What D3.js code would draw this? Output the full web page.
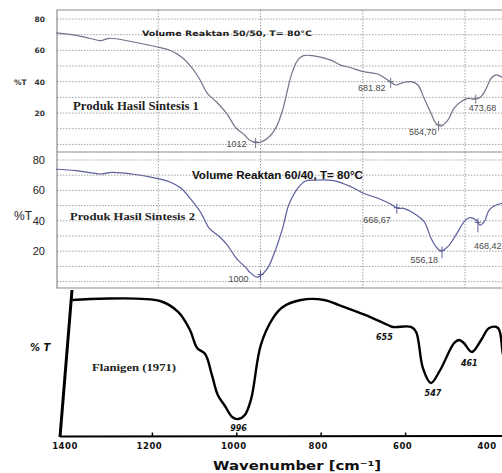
<!DOCTYPE html>
<html lang="en">
<head>
<meta charset="utf-8">
<script src="https://d3js.org/d3.v7.min.js"></script>
<style>
  body { margin: 0; background: #fff; }
</style>
</head>
<body>
<svg id="chart" width="502" height="473"></svg>
<script>
// ---- data ----
// panel 1: Volume Reaktan 50/50
const wn1 = [1500, 1444, 1400, 1390, 1370, 1314, 1255, 1223, 1194, 1170, 1150, 1130, 1108, 1083, 1059, 1039, 1027, 1007, 983, 963, 946, 934, 922, 909, 895, 873, 828, 804, 779, 748, 713, 689, 669, 652, 632, 615, 600, 583, 571, 559, 542, 527, 510, 493, 478, 461, 448, 436, 424, 409, 395];
const t1  = [71.1, 69.2, 66.6, 66.2, 67.7, 65.5, 62.3, 60.2, 55.9, 49.6, 42.2, 32.6, 27.2, 19.8, 10.2, 6.0, 2.8, 1.1, 3.9, 10.2, 21.9, 34.7, 46.4, 53.8, 56.6, 56.6, 53.8, 50.6, 48.9, 46.4, 44.9, 41.1, 37.9, 39.4, 40.0, 37.9, 29.4, 19.8, 13.4, 11.7, 15.5, 23.0, 27.2, 29.4, 28.8, 30.4, 35.8, 42.2, 44.3, 42.8, 40.5];
const peaks1 = [1012, 681.82, 564.70, 473.68];
const peakText1 = ["1012", "681.82", "564,70", "473,68"];

// panel 2: Volume Reaktan 60/40
const wn2 = [1500, 1451, 1390, 1363, 1314, 1265, 1223, 1194, 1169, 1145, 1125, 1100, 1081, 1059, 1034, 1027, 1007, 983, 968, 946, 931, 909, 890, 865, 821, 779, 748, 713, 681, 664, 650, 625, 600, 583, 571, 559, 542, 522, 502, 490, 473, 463, 453, 441, 424, 409, 395];
const t2  = [73.9, 73.0, 70.8, 71.9, 70.8, 68.6, 65.7, 61.4, 53.7, 44.9, 35.0, 29.5, 24.0, 15.3, 8.7, 6.3, 3.0, 8.7, 17.5, 35.0, 50.4, 61.4, 66.2, 66.8, 66.4, 62.4, 58.1, 54.8, 50.9, 48.2, 48.2, 44.9, 39.4, 28.5, 23.0, 20.1, 23.0, 30.7, 39.4, 42.0, 40.5, 37.2, 39.4, 47.1, 50.4, 51.5, 52.0];
const peaks2 = [1000, 666.67, 556.18, 468.42];
const peakText2 = ["1000", "666,67", "556,18", "468,42"];

// panel 3: Flanigen (1971), relative %T
const wn3 = [1390, 1182, 1139, 1111, 1094, 1075, 1059, 1045, 1028, 1011, 997, 981, 966, 943, 914, 891, 848, 793, 758, 696, 642, 630, 587, 575, 559, 540, 518, 485, 473, 462, 443, 421, 402, 381, 369, 355];
const t3  = [90.7, 90.0, 82.7, 70.7, 58.7, 54.7, 40.7, 27.3, 20.0, 12.7, 11.3, 14.0, 24.7, 60.7, 78.7, 86.0, 90.7, 90.7, 87.3, 80.7, 74.0, 72.7, 72.7, 69.3, 45.3, 35.3, 44.0, 62.0, 64.0, 62.0, 56.0, 64.0, 72.0, 72.0, 54.0, 40.0];
const peaks3 = [996, 655, 547, 461];
const peakText3 = ["996", "655", "547", "461"];

const yTicks12 = [80, 60, 40, 20];
const xTicks3 = [1400, 1200, 1000, 800, 600, 400];

// ---- layout ----
const svg = d3.select("#chart");
const W = 502;

const x12 = d3.scaleLinear().domain([1500, 500]).range([56, 465]);
const y1 = d3.scaleLinear().domain([0, 80]).range([144.4, 19]);
const y2 = d3.scaleLinear().domain([0, 80]).range([281.6, 160]);
const x3 = d3.scaleLinear().domain([1400, 400]).range([68, 490]);
const y3 = d3.scaleLinear().domain([0, 100]).range([436, 286]);

function valueAt(wn, t, w) {
  for (let i = 0; i < wn.length - 1; i++) {
    if (w <= wn[i] && w >= wn[i + 1]) {
      const f = (wn[i] - w) / (wn[i] - wn[i + 1]);
      return t[i] + f * (t[i + 1] - t[i]);
    }
  }
  return t[t.length - 1];
}

function drawPanel(opt) {
  const g = svg.append("g");
  const [top, bottom] = opt.frame;
  // dotted grid
  d3.range(0, 81, 10).forEach(v => {
    g.append("line")
      .attr("x1", 57).attr("x2", W)
      .attr("y1", opt.y(v)).attr("y2", opt.y(v))
      .attr("stroke", "#8a8a8a").attr("stroke-width", 0.8)
      .attr("stroke-dasharray", "1.5,1.5");
  });
  [1250, 1000, 750, 500].forEach(v => {
    g.append("line")
      .attr("x1", x12(v)).attr("x2", x12(v))
      .attr("y1", top).attr("y2", bottom)
      .attr("stroke", "#8a8a8a").attr("stroke-width", 0.8)
      .attr("stroke-dasharray", "1.5,1.5");
  });
  // frame
  g.append("path")
    .attr("d", `M${W},${top}H57V${bottom}` + (opt.closeBottom ? `H${W}` : ""))
    .attr("fill", "none").attr("stroke", "#8c8c8c").attr("stroke-width", 1.2);

  // trace
  const line = d3.line()
    .x((d, i) => x12(opt.wn[i]))
    .y(d => opt.y(d))
    .curve(d3.curveCatmullRom.alpha(0.5));
  g.append("path")
    .attr("d", line(opt.t))
    .attr("fill", "none").attr("stroke", opt.color).attr("stroke-width", 1.2);

  // peak markers + labels
  opt.peaks.forEach((p, i) => {
    const mx = x12(p), my = opt.y(valueAt(opt.wn, opt.t, p));
    const o = opt.offsets[i];
    g.append("line").attr("x1", mx).attr("x2", mx)
      .attr("y1", my - 4).attr("y2", my + o.tail)
      .attr("stroke", opt.color).attr("stroke-width", 1);
    g.append("line").attr("x1", mx - 3).attr("x2", mx + 3)
      .attr("y1", my).attr("y2", my)
      .attr("stroke", opt.color).attr("stroke-width", 1);
    g.append("text")
      .attr("x", mx + o.dx).attr("y", my + o.dy)
      .attr("text-anchor", o.anchor)
      .attr("font-family", "Liberation Sans, Arial, sans-serif")
      .attr("font-size", 9).attr("fill", "#4a4a4a")
      .text(opt.peakText[i]);
  });
}

drawPanel({
  wn: wn1, t: t1, y: y1, frame: [10, 152], closeBottom: false,
  color: "#73738a",
  peaks: peaks1, peakText: peakText1,
  offsets: [
    { dx: -9, dy: 5, anchor: "end", tail: 6 },
    { dx: -5, dy: 9, anchor: "end", tail: 6 },
    { dx: -2, dy: 10, anchor: "end", tail: 6 },
    { dx: -7, dy: 12, anchor: "start", tail: 5 }
  ]
});

drawPanel({
  wn: wn2, t: t2, y: y2, frame: [152, 288], closeBottom: true,
  color: "#5a5d9c",
  peaks: peaks2, peakText: peakText2,
  offsets: [
    { dx: -12, dy: 7, anchor: "end", tail: 6 },
    { dx: -6, dy: 15, anchor: "end", tail: 6 },
    { dx: -4, dy: 13, anchor: "end", tail: 8 },
    { dx: -4, dy: 27, anchor: "start", tail: 10 }
  ]
});

// panel 1 labels
yTicks12.forEach(v => {
  svg.append("text").attr("x", 45).attr("y", y1(v) + 3)
    .attr("text-anchor", "end")
    .attr("font-family", "DejaVu Sans, sans-serif").attr("font-weight", "bold")
    .attr("font-size", 7.5).attr("fill", "#333").text(v);
});
svg.append("text").attr("x", 14).attr("y", y1(40) + 3)
  .attr("font-family", "DejaVu Sans, sans-serif").attr("font-weight", "bold")
  .attr("font-size", 7.5).attr("fill", "#333").text("%T");
svg.append("text").attr("x", 142).attr("y", 36)
  .attr("font-family", "DejaVu Sans, sans-serif").attr("font-weight", "bold")
  .attr("font-size", 7.5).attr("fill", "#222")
  .attr("textLength", 170).attr("lengthAdjust", "spacingAndGlyphs")
  .text("Volume Reaktan 50/50, T= 80°C");
svg.append("text").attr("x", 73).attr("y", 110)
  .attr("font-family", "Liberation Serif, serif").attr("font-weight", "bold")
  .attr("font-size", 11.5).attr("fill", "#222")
  .attr("textLength", 126).attr("lengthAdjust", "spacingAndGlyphs")
  .text("Produk Hasil Sintesis 1");

// panel 2 labels
yTicks12.forEach(v => {
  svg.append("text").attr("x", 45).attr("y", y2(v) + 4)
    .attr("text-anchor", "end")
    .attr("font-family", "Liberation Sans, Arial, sans-serif")
    .attr("font-size", 11).attr("fill", "#222").text(v);
});
svg.append("text").attr("x", 14).attr("y", 220)
  .attr("font-family", "Liberation Sans, Arial, sans-serif")
  .attr("font-size", 12).attr("fill", "#222").text("%T");
svg.append("text").attr("x", 192).attr("y", 179)
  .attr("font-family", "Liberation Sans, Arial, sans-serif").attr("font-weight", "bold")
  .attr("font-size", 11).attr("fill", "#111")
  .attr("textLength", 171).attr("lengthAdjust", "spacingAndGlyphs")
  .text("Volume Reaktan 60/40, T= 80°C");
svg.append("text").attr("x", 70).attr("y", 219.5)
  .attr("font-family", "Liberation Serif, serif").attr("font-weight", "bold")
  .attr("font-size", 10.5).attr("fill", "#222")
  .attr("textLength", 125).attr("lengthAdjust", "spacingAndGlyphs")
  .text("Produk Hasil Sintesis 2");

// ---- panel 3: hand drawn Flanigen spectrum ----
const g3 = svg.append("g");
g3.append("line").attr("x1", 72).attr("y1", 290).attr("x2", 60).attr("y2", 437)
  .attr("stroke", "#000").attr("stroke-width", 3);
g3.append("line").attr("x1", 60).attr("y1", 436.5).attr("x2", W).attr("y2", 436)
  .attr("stroke", "#000").attr("stroke-width", 2);
xTicks3.slice(1, -1).forEach(v => {
  g3.append("line").attr("x1", x3(v)).attr("x2", x3(v))
    .attr("y1", 436).attr("y2", 432.5)
    .attr("stroke", "#000").attr("stroke-width", 1.5);
});
xTicks3.forEach(v => {
  g3.append("text").attr("x", x3(v) - 3).attr("y", 449)
    .attr("text-anchor", "middle")
    .attr("font-family", "DejaVu Sans, sans-serif").attr("font-weight", "bold")
    .attr("font-size", 8.5).attr("fill", "#111")
    .attr("letter-spacing", 0.5)
    .text(v);
});
const line3 = d3.line()
  .x((d, i) => x3(wn3[i]))
  .y(d => y3(d))
  .curve(d3.curveCatmullRom.alpha(0.5));
g3.append("path").attr("d", line3(t3))
  .attr("fill", "none").attr("stroke", "#000").attr("stroke-width", 2.4)
  .attr("stroke-linejoin", "round");

const off3 = [[0, 12], [2, 17], [5, 18], [5, 23]];
peaks3.forEach((p, i) => {
  g3.append("text")
    .attr("x", x3(p) + off3[i][0])
    .attr("y", y3(valueAt(wn3, t3, p)) + off3[i][1])
    .attr("text-anchor", "middle")
    .attr("font-family", "DejaVu Sans, sans-serif").attr("font-weight", "bold")
    .attr("font-style", "italic")
    .attr("font-size", 8).attr("fill", "#111")
    .text(peakText3[i]);
});

g3.append("text").attr("x", 30).attr("y", 351)
  .attr("font-family", "DejaVu Sans, sans-serif").attr("font-weight", "bold")
  .attr("font-style", "italic")
  .attr("font-size", 10).attr("fill", "#111").text("% T");
g3.append("text").attr("x", 92).attr("y", 371)
  .attr("font-family", "Liberation Serif, serif").attr("font-weight", "bold")
  .attr("font-size", 11).attr("fill", "#222")
  .attr("textLength", 84).attr("lengthAdjust", "spacingAndGlyphs")
  .text("Flanigen (1971)");
g3.append("text").attr("x", 213).attr("y", 470)
  .attr("font-family", "DejaVu Sans, sans-serif").attr("font-weight", "bold")
  .attr("font-size", 12).attr("fill", "#111")
  .attr("textLength", 168).attr("lengthAdjust", "spacingAndGlyphs")
  .text("Wavenumber [cm⁻¹]");
</script>
</body>
</html>
